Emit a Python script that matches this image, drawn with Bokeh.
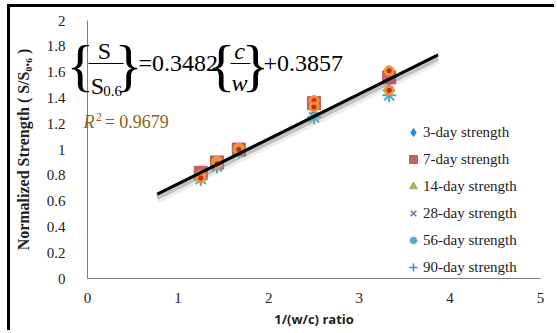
from bokeh.plotting import figure
from bokeh.models import Label, Legend, LegendItem, FixedTicker, Range1d
from bokeh.embed import file_html
from bokeh.resources import INLINE

# ---- data ----
x_ratio = [1.25, 1.43, 1.67, 2.50, 3.33]
s3 = [0.80, 0.91, 1.01, 1.38, 1.61]
s7 = [0.82, 0.90, 1.00, 1.36, 1.56]
s14 = [0.78, 0.88, 0.99, 1.27, 1.47]
s28 = [0.79, 0.89, 1.00, 1.30, 1.50]
s56 = [0.77, 0.87, 0.99, 1.25, 1.42]
s90 = [0.78, 0.89, 1.00, 1.33, 1.46]
series_names = ["3-day strength", "7-day strength", "14-day strength",
                "28-day strength", "56-day strength", "90-day strength"]
fit_slope = 0.3482
fit_intercept = 0.3857
fit_r2 = 0.9679
fit_x = [0.77, 3.87]
x_ticks = [0, 1, 2, 3, 4, 5]
x_tick_labels = ["0", "1", "2", "3", "4", "5"]
y_ticks = [0, 0.2, 0.4, 0.6, 0.8, 1.0, 1.2, 1.4, 1.6, 1.8, 2.0]
y_tick_labels = ["0", "0.2", "0.4", "0.6", "0.8", "1", "1.2", "1.4", "1.6", "1.8", "2"]

fit_y = [fit_slope * v + fit_intercept for v in fit_x]

SERIF = "Liberation Serif"

# The frame covers the whole canvas; both axes are pinned at 0 (fixed_location) and
# bounded to the data extent, so the equation left of the y axis is not clipped.
p = figure(width=547, height=326, x_range=Range1d(-0.85, 5.188), y_range=Range1d(-0.426, 2.101),
           output_backend="svg", toolbar_location=None,
           min_border_left=0, min_border_right=0, min_border_top=0, min_border_bottom=0)
p.styles = {"border-left": "3px solid black", "border-top": "3px solid black"}
p.margin = (4, 0, 0, 7)
p.outline_line_color = None
p.grid.visible = False
p.background_fill_color = "white"
p.border_fill_color = "white"

p.yaxis.fixed_location = 0
p.xaxis.fixed_location = 0
p.xaxis.bounds = (0, 5)
p.yaxis.bounds = (0, 2)

for ax in (p.xaxis, p.yaxis):
    ax.major_tick_line_color = None
    ax.minor_tick_line_color = None
    ax.axis_line_color = "#7f7f7f"
    ax.axis_line_width = 1
    ax.major_label_text_font = SERIF
    ax.major_label_text_font_size = "15px"
    ax.major_label_text_color = "#222222"

p.xaxis.ticker = FixedTicker(ticks=x_ticks)
p.xaxis.major_label_overrides = {t: l for t, l in zip(x_ticks, x_tick_labels)}
p.yaxis.ticker = FixedTicker(ticks=y_ticks)
p.yaxis.major_label_overrides = {t: l for t, l in zip(y_ticks, y_tick_labels)}
p.xaxis.major_label_standoff = 8
p.yaxis.major_label_standoff = 16

p.xaxis.axis_label = "1/(w/c) ratio"
p.xaxis.axis_label_text_font = "Open Sans"
p.xaxis.axis_label_text_font_style = "bold"
p.xaxis.axis_label_text_font_size = "13px"
p.xaxis.axis_label_text_color = "#222222"
p.xaxis.axis_label_standoff = 4

p.yaxis.axis_label = "Normalized Strength ( S/S\u2080.\u2086 )"
p.yaxis.axis_label_text_font = SERIF
p.yaxis.axis_label_text_font_style = "bold"
p.yaxis.axis_label_text_font_size = "16px"
p.yaxis.axis_label_text_color = "#222222"
p.yaxis.axis_label_standoff = 12

# trend line with soft shadow
shadow1 = [v - 0.035 for v in fit_y]
shadow2 = [v - 0.025 for v in fit_y]
p.line(fit_x, shadow1, line_width=9, color="#808080", alpha=0.15)
p.line(fit_x, shadow2, line_width=5, color="#606060", alpha=0.3)

# series markers
r7 = p.scatter(x_ratio, s7, marker="square", size=13, fill_color="#c0504d", line_color="#c0504d", alpha=0.9)
r14 = p.scatter(x_ratio, s14, marker="triangle", size=10, fill_color="#9bbb59", line_color="#9bbb59")
r28 = p.scatter(x_ratio, s28, marker="x", size=11, line_color="#8064a2", line_width=1.5)
r56 = p.scatter(x_ratio, s56, marker="asterisk", size=14, line_color="#4bacc6", line_width=2)
r90 = p.scatter(x_ratio, s90, marker="cross", size=12, line_color="#4f81bd", line_width=1.5)
r3 = p.scatter(x_ratio, s3, marker="diamond", size=10, fill_color="#1b8fd8", line_color="#1b8fd8")

# orange glow markers
for vals in (s3, s90):
    p.scatter(x_ratio, vals, marker="circle", size=10, fill_color="#f0952a", line_color="#e8a040", alpha=0.95)
    p.scatter(x_ratio, vals, marker="circle", size=5, fill_color="#d42020", line_color=None)

p.line(fit_x, fit_y, line_width=3, color="black")

# equation annotations
def lab(x, y, t, size, align="center", baseline="middle", style="normal", color="black", font=SERIF):
    p.add_layout(Label(x=x, y=y, text=t, text_font=font, text_font_size=size,
                       text_align=align, text_baseline=baseline, text_font_style=style,
                       text_color=color))

BR = "58px"
lab(-0.077, 1.655, "{", BR)
lab(0.188, 1.767, "S", "24px")
p.segment(x0=[0.011, 1.578], y0=[1.667, 1.667], x1=[0.397, 1.799], y1=[1.667, 1.667],
          line_color="black", line_width=1)
lab(0.11, 1.496, "S", "24px")
lab(0.276, 1.457, "0.6", "15px")
lab(0.453, 1.655, "}", BR)
lab(0.563, 1.667, "=0.3482", "24px", align="left")
lab(1.479, 1.655, "{", BR)
lab(1.678, 1.767, "c", "24px", style="italic")
lab(1.678, 1.519, "w", "24px", style="italic")
lab(1.854, 1.655, "}", BR)
lab(1.943, 1.667, "+0.3857", "24px", align="left")

# R^2 label
lab(-0.044, 1.21, "R", "18px", align="left", style="italic", color="#8a6414")
lab(0.095, 1.25, "2", "12px", align="left", color="#8a6414")
lab(0.19, 1.21, "= " + f"{fit_r2:.4f}", "18px", align="left", color="#8a6414")

# legend location is relative to the frame's bottom-left
legend = Legend(items=[LegendItem(label=n, renderers=[r]) for n, r in
                       zip(series_names, [r3, r7, r14, r28, r56, r90])],
                location=(393, 55), border_line_color=None, background_fill_alpha=0,
                padding=0, margin=0, spacing=5, label_height=22, glyph_width=20, glyph_height=22,
                label_standoff=0, label_text_font=SERIF, label_text_font_size="15px",
                label_text_color="#222222")
p.add_layout(legend)

open("out.html", "w").write(file_html(p, INLINE))
